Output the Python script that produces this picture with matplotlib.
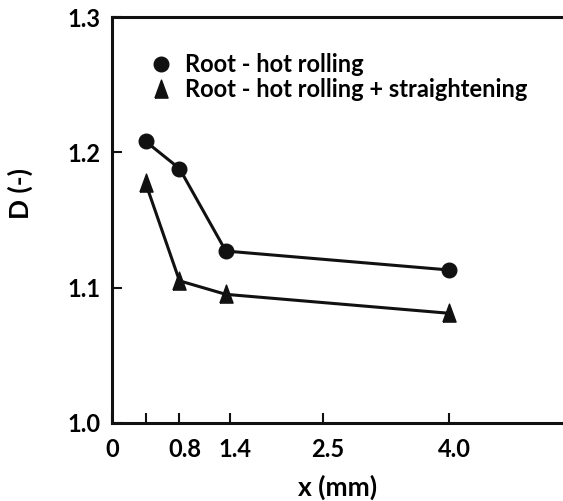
import matplotlib
matplotlib.use("Agg")
import matplotlib.pyplot as plt
from matplotlib.lines import Line2D
from matplotlib.transforms import ScaledTranslation

# Data
x_vals = [0.4, 0.8, 1.35, 4.0]
d_hot = [1.208, 1.188, 1.127, 1.113]
d_straight = [1.177, 1.105, 1.095, 1.081]
labels = ["Root - hot rolling", "Root - hot rolling + straightening"]

x_ticks = [0, 0.4, 0.8, 1.4, 2.5, 4.0]
x_ticklabels = ["0", "", "0.8", "1.4", "2.5", "4.0"]
y_ticks = [1.0, 1.1, 1.2, 1.3]
y_ticklabels = ["1.0", "1.1", "1.2", "1.3"]

plt.rcParams['font.family'] = ['Lato', 'DejaVu Sans']
plt.rcParams['font.weight'] = 'bold'

# tall triangle marker
tri = [(-0.42, -0.55), (0.42, -0.55), (0.0, 0.6), (-0.42, -0.55)]

fig = plt.figure(figsize=(5.63, 5.01), dpi=100)
ax = fig.add_axes([0.199, 0.156, 0.801, 0.81])

ax.plot(x_vals, d_hot, color='#111111', lw=2.2, marker='o', markersize=10.5, zorder=3)
ax.plot(x_vals, d_straight, color='#111111', lw=2.2, marker=tri, markersize=13.5, zorder=3)

ax.set_xlim(0, 5.35)
ax.set_ylim(1.0, 1.3)
ax.set_xticks(x_ticks)
ax.set_xticklabels(x_ticklabels)
ax.set_yticks(y_ticks)
ax.set_yticklabels(y_ticklabels)
ax.tick_params(direction='in', length=7, width=1.5, labelsize=17, color='#111111')
ax.tick_params(axis='x', pad=11)
ax.tick_params(axis='y', pad=8)

# hand-drawn look: x labels sit a little right of their ticks
offset = ScaledTranslation(5 / 100, 0, fig.dpi_scale_trans)
for lab in ax.get_xticklabels()[1:]:
    lab.set_transform(lab.get_transform() + offset)

ax.spines['right'].set_visible(False)
for s in ['left', 'top', 'bottom']:
    ax.spines[s].set_linewidth(2.2)
    ax.spines[s].set_color('#111111')

ax.set_xlabel('x (mm)', fontsize=19, fontweight='bold', labelpad=10)
ax.set_ylabel('D (-)', fontsize=19, fontweight='bold')
ax.yaxis.set_label_coords(-0.175, 0.565)

handles = [
    Line2D([], [], ls='none', marker='o', markersize=10.5, color='#111111'),
    Line2D([], [], ls='none', marker=tri, markersize=13.5, color='#111111'),
]
ax.legend(handles, labels, loc='upper left', bbox_to_anchor=(0.062, 0.935),
          frameon=False, fontsize=17, handlelength=1.0, handletextpad=0.5,
          labelspacing=0.1, borderaxespad=0)

fig.savefig("out.png", dpi=100)
